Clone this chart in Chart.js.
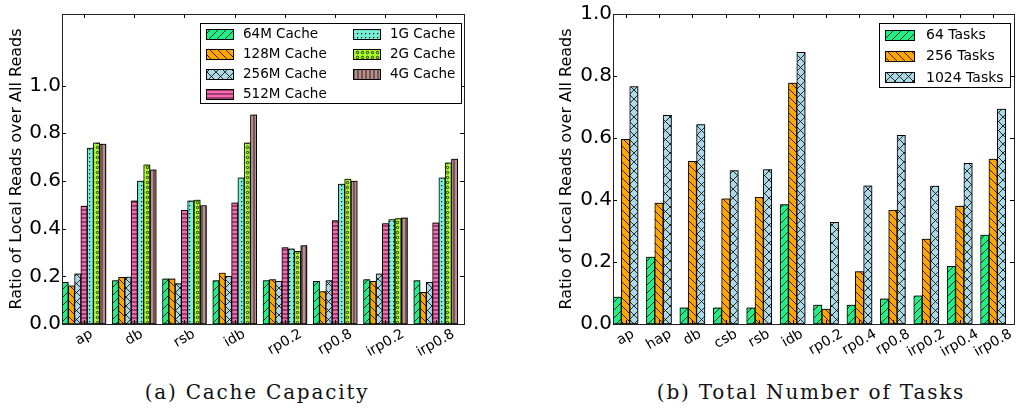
<!DOCTYPE html>
<html>
<head>
<meta charset="utf-8">
<script src="https://cdn.jsdelivr.net/npm/chart.js@4/dist/chart.umd.min.js"></script>
<style>
  body { margin: 0; background: #fff; width: 1016px; height: 408px; position: relative; overflow: hidden; }
  canvas { position: absolute; top: 0; }
  #cacheChart { left: 0; }
  #taskChart { left: 508px; }
  .caption { position: absolute; top: 382px; font-family: "DejaVu Serif", serif; font-size: 20px; line-height: 20px;
    letter-spacing: 1.8px; text-align: center; width: 440px; color: #111; }
</style>
</head>
<body>
<canvas id="cacheChart" width="508" height="360"></canvas>
<canvas id="taskChart" width="508" height="360"></canvas>
<div class="caption" style="left:37px">(a) Cache Capacity</div>
<div class="caption" style="left:591px">(b) Total Number of Tasks</div>
<script>
// ---- data ----
const cacheCats = ['ap', 'db', 'rsb', 'idb', 'rp0.2', 'rp0.8', 'irp0.2', 'irp0.8'];
const cacheNames = ['64M Cache', '128M Cache', '256M Cache', '512M Cache', '1G Cache', '2G Cache', '4G Cache'];
const cache64M  = [0.175, 0.182, 0.189, 0.182, 0.182, 0.179, 0.186, 0.182];
const cache128M = [0.160, 0.196, 0.189, 0.214, 0.186, 0.136, 0.179, 0.133];
const cache256M = [0.210, 0.197, 0.169, 0.200, 0.179, 0.182, 0.210, 0.175];
const cache512M = [0.494, 0.516, 0.477, 0.508, 0.320, 0.434, 0.421, 0.424];
const cache1G   = [0.738, 0.599, 0.516, 0.613, 0.315, 0.587, 0.438, 0.613];
const cache2G   = [0.760, 0.667, 0.520, 0.760, 0.305, 0.608, 0.442, 0.676];
const cache4G   = [0.755, 0.646, 0.497, 0.877, 0.329, 0.599, 0.445, 0.692];

const taskCats = ['ap', 'hap', 'db', 'csb', 'rsb', 'idb', 'rp0.2', 'rp0.4', 'rp0.8', 'irp0.2', 'irp0.4', 'irp0.8'];
const taskNames = ['64 Tasks', '256 Tasks', '1024 Tasks'];
const tasks64   = [0.087, 0.216, 0.052, 0.052, 0.052, 0.385, 0.061, 0.061, 0.081, 0.091, 0.186, 0.287];
const tasks256  = [0.596, 0.390, 0.525, 0.404, 0.409, 0.777, 0.048, 0.169, 0.367, 0.274, 0.380, 0.532];
const tasks1024 = [0.766, 0.673, 0.643, 0.495, 0.498, 0.876, 0.328, 0.446, 0.609, 0.445, 0.518, 0.693];

const yTitle = 'Ratio of Local Reads over All Reads';
const yTickStep = 0.2;
const yTickTop = 1.0;

// ---- hatch patterns ----
function hatch(color, kind) {
  const sizes = {'/': 8, '\\': 8, 'x': 9, '-': 4, '.': 4, 'o': 5, '|': 4};
  const s = sizes[kind];
  const c = document.createElement('canvas');
  c.width = s; c.height = s;
  const g = c.getContext('2d');
  g.fillStyle = color;
  g.fillRect(0, 0, s, s);
  g.strokeStyle = '#000';
  g.fillStyle = '#000';
  g.lineWidth = 0.8;
  g.beginPath();
  if (kind === '/' || kind === 'x') {
    g.moveTo(-1, s + 1); g.lineTo(s + 1, -1);
    g.moveTo(-1, 1); g.lineTo(1, -1);
    g.moveTo(s - 1, s + 1); g.lineTo(s + 1, s - 1);
  }
  if (kind === '\\' || kind === 'x') {
    g.moveTo(-1, -1); g.lineTo(s + 1, s + 1);
    g.moveTo(s - 1, -1); g.lineTo(s + 1, 1);
    g.moveTo(-1, s - 1); g.lineTo(1, s + 1);
  }
  if (kind === '-') { g.moveTo(0, 2); g.lineTo(s, 2); }
  if (kind === '|') { g.moveTo(2, 0); g.lineTo(2, s); }
  g.stroke();
  if (kind === '.') g.fillRect(1, 1, 1.2, 1.2);
  if (kind === 'o') { g.beginPath(); g.arc(2.5, 2.5, 1.2, 0, Math.PI * 2); g.stroke(); }
  return g.createPattern(c, 'repeat');
}

// ---- plugins ----
const axesFrame = {
  id: 'axesFrame',
  beforeDatasetsDraw(chart) {
    const ctx = chart.ctx;
    ctx.save();
    ctx.shadowColor = 'rgba(0,0,0,0.3)';
    ctx.shadowOffsetX = 1.2;
    ctx.shadowOffsetY = -1;
  },
  afterDatasetsDraw(chart) {
    chart.ctx.restore();
  },
  afterDraw(chart) {
    const {ctx, chartArea: a, scales: {x, y}} = chart;
    const n = chart.data.datasets.length;
    const slot = (x.getPixelForValue(1) - x.getPixelForValue(0)) / n;
    ctx.save();
    ctx.strokeStyle = '#000';
    ctx.lineWidth = 1;
    ctx.beginPath();
    y.ticks.forEach(t => {
      const py = Math.round(y.getPixelForValue(t.value)) + 0.5;
      ctx.moveTo(a.left, py); ctx.lineTo(a.left + 4, py);
      ctx.moveTo(a.right, py); ctx.lineTo(a.right - 4, py);
    });
    const centers = chart.data.labels.map((l, i) => x.getPixelForValue(i) - slot / 2);
    centers.forEach(cx => {
      const px = Math.round(cx) + 0.5;
      ctx.moveTo(px, a.top); ctx.lineTo(px, a.top + 4);
      ctx.moveTo(px, a.bottom); ctx.lineTo(px, a.bottom - 4);
    });
    ctx.stroke();
    ctx.strokeStyle = '#222';
    ctx.strokeRect(Math.round(a.left) + 0.5, Math.round(a.top) + 0.5, Math.round(a.right - a.left), Math.round(a.bottom - a.top));
    // rotated category labels
    ctx.fillStyle = '#000';
    ctx.font = '14px "DejaVu Sans"';
    ctx.textAlign = 'center';
    ctx.textBaseline = 'middle';
    const ang = 30 * Math.PI / 180;
    chart.data.labels.forEach((lab, i) => {
      const w = ctx.measureText(lab).width;
      const h = w * Math.sin(ang) + 14 * Math.cos(ang);
      ctx.save();
      ctx.translate(centers[i], a.bottom + 3 + h / 2);
      ctx.rotate(-ang);
      ctx.fillText(lab, 0, 0);
      ctx.restore();
    });
    ctx.restore();
  }
};

const boxLegend = {
  id: 'boxLegend',
  afterDraw(chart, args, o) {
    const ctx = chart.ctx;
    const sets = chart.data.datasets.filter(d => d.label);
    ctx.save();
    ctx.fillStyle = '#fff';
    ctx.fillRect(o.x, o.y, o.w, o.h);
    ctx.strokeStyle = '#000';
    ctx.lineWidth = 1;
    ctx.strokeRect(o.x + 0.5, o.y + 0.5, o.w, o.h);
    ctx.font = o.size + 'px "DejaVu Sans"';
    ctx.textBaseline = 'middle';
    sets.forEach((d, i) => {
      const col = Math.floor(i / o.rows), row = i % o.rows;
      const sx = o.x + o.pad + col * o.colW;
      const cy = o.y + o.first + row * o.rowH;
      ctx.fillStyle = d.backgroundColor;
      ctx.fillRect(sx, Math.round(cy - 5), o.sw, 10);
      ctx.strokeRect(sx + 0.5, Math.round(cy - 5) + 0.5, o.sw, 10);
      ctx.fillStyle = '#000';
      ctx.fillText(d.label, sx + o.sw + o.gap, cy + 1);
    });
    ctx.restore();
  }
};

function makeChart(id, cats, names, series, styles, yMax, pad, axisW, legend) {
  const datasets = series.map((vals, i) => ({
    label: names[i],
    data: vals,
    backgroundColor: hatch(styles[i][0], styles[i][1]),
    borderColor: '#000',
    borderWidth: 1,
    borderSkipped: false,
    categoryPercentage: 1,
    barPercentage: 1
  }));
  // empty slot after each group (gap between groups)
  datasets.push({label: '', data: cats.map(() => 0), backgroundColor: 'rgba(0,0,0,0)', borderWidth: 0,
    categoryPercentage: 1, barPercentage: 1});
  return new Chart(document.getElementById(id), {
    type: 'bar',
    data: {labels: cats, datasets},
    options: {
      responsive: false,
      animation: false,
      layout: {padding: pad},
      plugins: {legend: {display: false}, tooltip: {enabled: false}, boxLegend: legend},
      scales: {
        x: {display: false, offset: true},
        y: {
          min: 0,
          max: yMax,
          afterBuildTicks: s => { s.ticks = s.ticks.filter(t => t.value <= yTickTop + 1e-9); },
          afterFit: s => { s.width = axisW; },
          ticks: {stepSize: yTickStep, padding: 1, color: '#000', font: {family: 'DejaVu Sans', size: 20},
            callback: v => v.toFixed(1)},
          grid: {display: false, drawTicks: false},
          border: {display: false},
          title: {display: true, text: yTitle, color: '#000', font: {family: 'DejaVu Sans', size: 16},
            padding: {top: 3, bottom: 0}}
        }
      }
    },
    plugins: [axesFrame, boxLegend]
  });
}

const cacheStyles = [['#22ee88', '/'], ['#ffa500', '\\'], ['#add8e6', 'x'], ['#ff69b4', '-'],
  ['#77eed6', '.'], ['#adff2f', 'o'], ['#bc8f8f', '|']];
const taskStyles = [['#22ee88', '/'], ['#ffa500', '\\'], ['#add8e6', 'x']];

makeChart('cacheChart', cacheCats, cacheNames,
  [cache64M, cache128M, cache256M, cache512M, cache1G, cache2G, cache4G],
  cacheStyles, 1.3, {left: 4, right: 44, top: 14, bottom: 36}, 58,
  {x: 200, y: 23, w: 261, h: 80, rows: 4, colW: 147, pad: 6, first: 10.5, rowH: 20, sw: 27, gap: 10, size: 13.5});

makeChart('taskChart', taskCats, taskNames,
  [tasks64, tasks256, tasks1024],
  taskStyles, 1.0, {left: 46, right: 2, top: 14, bottom: 36}, 59,
  {x: 371, y: 23, w: 131, h: 64, rows: 3, colW: 0, pad: 6, first: 11.5, rowH: 21.2, sw: 29, gap: 12, size: 14});
</script>
</body>
</html>
